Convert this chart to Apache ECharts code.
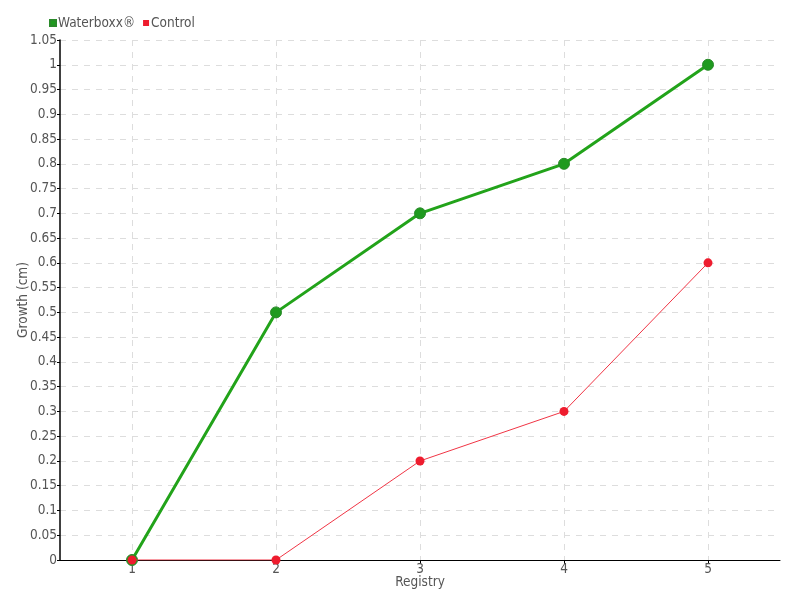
<!DOCTYPE html>
<html><head><meta charset="utf-8">
<script src="https://cdn.jsdelivr.net/npm/echarts@6/dist/echarts.min.js"></script>
<style>html,body{margin:0;padding:0;background:#fff}#c{width:800px;height:600px}</style>
</head><body><div id="c"></div>
<script>
const categories = ['1', '2', '3', '4', '5'];
const waterboxx = [0, 0.5, 0.7, 0.8, 1.0];
const control = [0, 0, 0.2, 0.3, 0.6];
const FONT = "'DejaVu Sans Condensed', sans-serif";
const chart = echarts.init(document.getElementById('c'), null, {renderer: 'canvas'});
chart.setOption({
  animation: false,
  textStyle: {fontFamily: FONT},
  legend: {
    left: 44, top: 11, itemWidth: 6, itemHeight: 6, itemGap: 8,
    icon: 'rect',
    textStyle: {fontSize: 13.5, color: '#555', fontFamily: FONT, padding: [0, 0, 0, -3]},
    data: ['Waterboxx®', 'Control']
  },
  grid: {left: 60, right: 20, top: 40, bottom: 40, containLabel: false, outerBoundsMode: 'none'},
  xAxis: {
    type: 'category', data: categories, boundaryGap: true,
    name: 'Registry', nameLocation: 'middle', nameGap: 15, nameMoveOverlap: false,
    nameTextStyle: {fontSize: 13.5, color: '#555', fontFamily: FONT},
    axisLine: {lineStyle: {color: '#000', width: 1}},
    axisTick: {show: true, alignWithLabel: true, length: 4, lineStyle: {color: '#000'}},
    axisLabel: {fontSize: 13.5, color: '#555', margin: 2, fontFamily: FONT},
    splitLine: {show: true, alignWithLabel: true, lineStyle: {color: '#ddd', type: [6, 6]}}
  },
  yAxis: {
    type: 'value', min: 0, max: 1.05, interval: 0.05,
    name: 'Growth (cm)', nameLocation: 'middle', nameGap: 30, nameRotate: 90, nameMoveOverlap: false,
    nameTextStyle: {fontSize: 13.5, color: '#555', fontFamily: FONT},
    axisLine: {show: true, lineStyle: {color: '#000', width: 1.5}},
    axisTick: {show: true, length: 3, lineStyle: {color: '#000'}},
    axisLabel: {fontSize: 13.5, color: '#555', margin: 3, fontFamily: FONT,
      formatter: v => String(Math.round(v * 100) / 100)},
    splitLine: {show: true, lineStyle: {color: '#ddd', type: [6, 6]}}
  },
  series: [
    {
      name: 'Waterboxx®', type: 'line', data: waterboxx,
      symbol: 'circle', symbolSize: 11,
      itemStyle: {color: '#1f9a1f', borderColor: '#2a8a2a', borderWidth: 1},
      lineStyle: {color: '#22a31a', width: 3},
      z: 2
    },
    {
      name: 'Control', type: 'line', data: control,
      symbol: 'circle', symbolSize: 9,
      itemStyle: {color: '#ee1c2e'},
      lineStyle: {color: '#f03545', width: 1},
      z: 3
    }
  ]
});
</script></body></html>
